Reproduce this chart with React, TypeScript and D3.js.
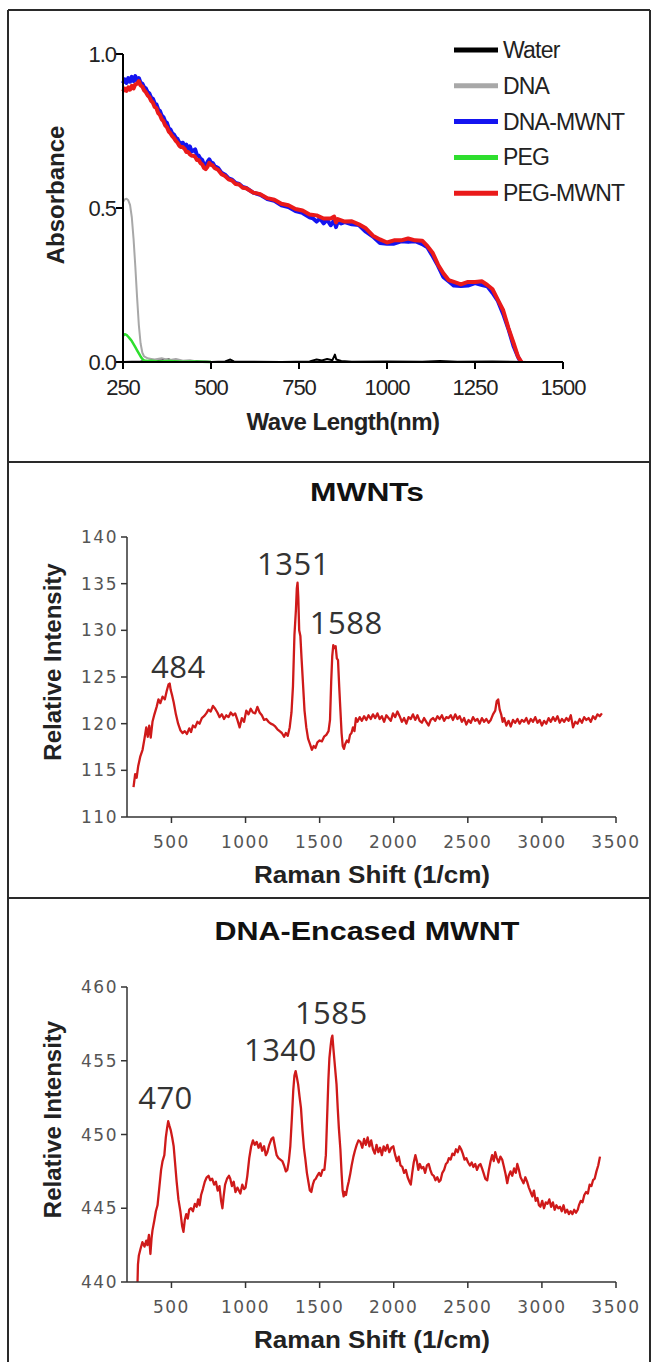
import * as d3 from 'd3';

// ---- UV-Vis absorbance spectra ----
const legendNames = ['Water', 'DNA', 'DNA-MWNT', 'PEG', 'PEG-MWNT'];
const legendColors = ['#000000', '#a8a8a8', '#1414f0', '#2ede2e', '#ea1a1a'];

const waterAbs = [[250,0],[300,.002],[330,.004],[360,.006],[380,.008],[400,.002],[450,.003],[500,0],[540,.002],[555,.008],[565,.002],[600,.001],[700,0],[780,.002],[800,.008],[815,.005],[830,.01],[845,.006],[852,.024],[856,.008],[870,.003],[900,.001],[1000,.002],[1100,.001],[1150,.003],[1200,.001],[1300,.002],[1400,0]];

const dnaAbs = [[250,.52],[255,.528],[260,.53],[265,.525],[270,.51],[275,.47],[280,.4],[285,.31],[290,.21],[295,.12],[300,.06],[305,.03],[310,.018],[320,.012],[330,.01],[340,.008],[360,.012],[380,.006],[400,.01],[420,.004],[440,.006],[460,.002],[480,.003],[500,.001]];

const dnaMwntAbs = [[250,.905],[255,.918],[260,.906],[265,.922],[270,.91],[275,.926],[280,.912],[285,.928],[290,.914],[295,.922],[300,.906],[305,.904],[310,.892],[315,.888],[320,.876],[325,.872],[330,.858],[335,.855],[340,.84],[345,.836],[350,.82],[355,.815],[360,.8],[365,.795],[370,.78],[375,.776],[380,.758],[385,.755],[390,.742],[395,.738],[400,.728],[405,.724],[410,.712],[415,.71],[420,.712],[425,.698],[430,.706],[435,.69],[440,.7],[445,.684],[450,.686],[455,.69],[460,.672],[465,.67],[470,.66],[475,.656],[480,.64],[485,.634],[490,.65],[495,.658],[500,.648],[505,.646],[510,.636],[520,.63],[530,.614],[540,.608],[550,.596],[560,.592],[570,.581],[580,.578],[590,.568],[600,.565],[620,.55],[640,.543],[660,.529],[680,.523],[700,.509],[720,.503],[740,.49],[760,.484],[780,.47],[790,.466],[800,.456],[810,.466],[820,.45],[830,.462],[840,.444],[850,.46],[855,.438],[860,.456],[870,.45],[880,.454],[900,.447],[920,.445],[940,.423],[960,.407],[980,.386],[1000,.384],[1020,.384],[1040,.392],[1060,.39],[1080,.392],[1100,.383],[1115,.372],[1130,.343],[1145,.312],[1160,.276],[1175,.262],[1190,.248],[1210,.247],[1230,.248],[1250,.256],[1270,.25],[1285,.246],[1300,.224],[1315,.198],[1330,.156],[1345,.107],[1360,.05],[1372,.017],[1380,0]];

const pegAbs = [[250,.085],[255,.09],[260,.088],[265,.082],[270,.075],[275,.068],[280,.058],[285,.048],[290,.038],[295,.028],[300,.018],[305,.01],[310,.005],[320,.003],[330,.004],[350,.002],[380,.003],[420,.001],[450,.002],[500,0]];

const pegMwntAbs = [[250,.878],[255,.888],[260,.88],[265,.892],[270,.884],[275,.897],[280,.888],[285,.902],[290,.903],[295,.912],[300,.898],[305,.894],[310,.882],[315,.876],[320,.866],[325,.86],[330,.848],[335,.842],[340,.828],[345,.824],[350,.808],[355,.802],[360,.788],[365,.782],[370,.768],[375,.762],[380,.748],[385,.742],[390,.733],[395,.727],[400,.718],[405,.712],[410,.702],[415,.698],[420,.698],[425,.692],[430,.682],[435,.682],[440,.674],[445,.67],[450,.67],[455,.666],[460,.656],[465,.656],[470,.646],[475,.642],[480,.63],[485,.626],[490,.634],[495,.647],[500,.64],[505,.638],[510,.63],[520,.624],[530,.61],[540,.604],[550,.593],[560,.589],[570,.578],[580,.576],[590,.566],[600,.564],[620,.55],[640,.545],[660,.532],[680,.527],[700,.514],[720,.509],[740,.497],[760,.492],[780,.479],[800,.476],[820,.466],[840,.466],[850,.472],[855,.453],[860,.464],[880,.456],[900,.457],[920,.447],[940,.434],[960,.41],[980,.398],[1000,.388],[1020,.395],[1040,.395],[1060,.401],[1080,.395],[1100,.394],[1115,.376],[1130,.354],[1145,.316],[1160,.288],[1175,.266],[1190,.26],[1210,.252],[1230,.26],[1250,.26],[1270,.262],[1285,.25],[1300,.236],[1315,.202],[1330,.168],[1345,.11],[1360,.06],[1372,.018],[1382,0]];

const absSeries = [waterAbs, dnaAbs, dnaMwntAbs, pegAbs, pegMwntAbs];
const absWidths = [2, 2, 4, 2.5, 4];

const waveTicks = [250, 500, 750, 1000, 1250, 1500];
const absTicks = [0, 0.5, 1.0];

// ---- Raman spectra ----
const ramanTicks = [500, 1000, 1500, 2000, 2500, 3000, 3500];
const mwntTicks = [110, 115, 120, 125, 130, 135, 140];
const dnaTicks = [440, 445, 450, 455, 460];

const mwntRaman = [[244,113.2],[255,114.6],[265,114.2],[275,115.4],[290,116.5],[305,117.2],[318,118.4],[330,119.6],[340,118.6],[350,119.8],[360,118.5],[372,120.2],[385,121],[400,121.8],[412,122.6],[425,122.2],[440,122.9],[455,122.6],[468,123.5],[480,124.2],[488,124.3],[495,123.6],[505,123],[515,122.3],[530,121],[545,120],[560,119.3],[575,119],[590,119.2],[605,118.9],[620,119.5],[632,119.1],[645,119.8],[660,119.6],[675,120.2],[690,120],[705,120.6],[720,120.8],[735,121.1],[750,121.5],[765,121.3],[780,121.9],[795,121.6],[810,121.2],[825,120.7],[840,121],[855,120.5],[870,120.9],[885,120.7],[900,121.2],[915,120.9],[930,121.1],[945,120.4],[960,119.6],[975,120.6],[990,120.2],[1005,121.4],[1020,121],[1035,121.6],[1050,121.2],[1065,121.1],[1080,121.8],[1095,121.2],[1110,120.9],[1125,120.4],[1140,120.5],[1155,120.2],[1170,120],[1185,119.9],[1200,119.7],[1215,119.4],[1230,119.2],[1245,119],[1260,118.6],[1272,119],[1285,118.7],[1298,119.6],[1310,121.2],[1320,124],[1330,129.5],[1340,132.2],[1346,134.5],[1351,135.1],[1356,133.5],[1362,130],[1370,129.4],[1378,127],[1388,124.2],[1398,121.4],[1410,119.6],[1422,118.4],[1435,117.8],[1448,117.2],[1460,117.6],[1472,117.4],[1485,118],[1500,118.2],[1515,118.1],[1530,118.6],[1545,118.8],[1560,119.2],[1570,120.4],[1578,124.5],[1585,127.2],[1592,128.4],[1600,128.1],[1608,128.3],[1616,127],[1624,126.8],[1632,124],[1640,121.5],[1648,119],[1656,117.6],[1664,117.3],[1672,117.8],[1684,118.2],[1695,118],[1705,118.8],[1715,119],[1725,119.6],[1735,119.2],[1745,120.6],[1755,120.2],[1770,120.7],[1785,120.3],[1800,120.8],[1815,120.4],[1830,120.9],[1845,120.5],[1860,121],[1875,120.6],[1890,121.1],[1905,120.5],[1920,120.8],[1935,120.2],[1950,120.9],[1965,120.6],[1980,120.3],[1995,121.1],[2010,120.7],[2025,121.3],[2040,120.8],[2055,120.2],[2070,120.6],[2085,120],[2100,120.7],[2115,120.5],[2130,121],[2145,120.4],[2160,120.9],[2175,120.3],[2190,120.1],[2205,120.6],[2220,120.2],[2235,119.8],[2250,120.4],[2265,120.6],[2280,120.3],[2295,120.8],[2310,120.5],[2325,120.9],[2340,120.3],[2355,120.7],[2370,120.6],[2385,120.9],[2400,120.4],[2415,121],[2430,120.5],[2445,120.8],[2460,120.2],[2475,120.6],[2490,119.9],[2505,120.4],[2520,120.1],[2535,120.7],[2550,120.3],[2565,120.5],[2580,120],[2595,120.6],[2610,120.2],[2625,120.5],[2640,120.1],[2655,120.4],[2670,121],[2685,121.4],[2695,122.4],[2705,122.6],[2715,121.5],[2725,121],[2735,120.2],[2745,120.6],[2760,119.8],[2775,120.3],[2790,119.7],[2805,120.4],[2820,120.1],[2835,120.5],[2850,120],[2865,120.4],[2880,120.2],[2895,120.6],[2910,120],[2925,120.5],[2940,120.2],[2955,120.7],[2970,120.1],[2985,120.4],[3000,119.8],[3015,120.3],[3030,120],[3045,120.6],[3060,120.2],[3075,120.7],[3090,120.3],[3105,120.8],[3120,120.1],[3135,120.5],[3150,120.2],[3165,120.6],[3180,120.3],[3195,120.9],[3210,119.6],[3225,120.2],[3240,120],[3255,120.5],[3270,120.1],[3285,120.7],[3300,120.4],[3315,120.6],[3330,120.2],[3345,120.8],[3360,120.5],[3375,121],[3390,120.8],[3405,121.1]];

const dnaRaman = [[271,440],[274,441.2],[280,441.8],[290,442.2],[304,442.7],[318,442.4],[330,442.8],[338,442.5],[348,443.2],[358,441.9],[366,443],[372,443.5],[385,444.2],[395,444.8],[406,445.2],[418,446.4],[430,447.6],[440,448.2],[452,448.6],[462,449.8],[470,450.4],[478,450.9],[486,450.6],[495,450.3],[505,449.8],[515,449.2],[525,448],[535,446.8],[547,445.6],[560,444.8],[572,443.8],[581,443.4],[590,444.2],[600,444.6],[610,444.3],[620,444.9],[632,445],[645,444.8],[658,445.3],[670,445.1],[680,445.6],[690,445.2],[700,445.9],[712,446.3],[725,446.8],[738,447.1],[750,447.2],[762,446.9],[775,447],[788,446.6],[800,446.8],[812,446.2],[824,446.5],[835,445.5],[844,445],[852,445.8],[862,446.6],[875,447],[888,447.2],[897,447],[908,446.5],[920,446.8],[932,446.1],[945,446.4],[955,446.2],[965,446],[978,446.6],[990,446.3],[1000,446.4],[1012,447.2],[1025,448.4],[1038,449.2],[1050,449.6],[1062,449.3],[1075,449.5],[1088,449.1],[1100,449.4],[1112,448.9],[1125,449.2],[1137,448.6],[1147,448.8],[1160,449.3],[1175,449.7],[1187,449.8],[1198,449.2],[1210,448.6],[1222,448.4],[1235,448.3],[1248,448.2],[1260,447.9],[1272,447.5],[1282,447.6],[1292,448.2],[1302,449.2],[1312,451],[1322,453],[1330,454],[1338,454.3],[1346,453.9],[1355,453.4],[1364,452.6],[1374,451.8],[1384,450.3],[1394,449.1],[1404,448.3],[1414,447.4],[1424,446.8],[1434,446.2],[1444,446.1],[1454,446.6],[1464,446.9],[1474,447],[1484,447.2],[1496,447.4],[1508,447.2],[1520,447.6],[1532,447.6],[1542,448.6],[1550,451],[1559,453.7],[1566,455.2],[1574,456],[1580,456.5],[1586,456.7],[1593,455.8],[1600,455],[1607,454.2],[1614,453.4],[1622,451.8],[1630,450.4],[1640,449],[1648,447.4],[1655,446.2],[1662,445.8],[1670,446.1],[1678,445.9],[1687,446.4],[1696,446.8],[1706,447.3],[1716,447.9],[1728,448.5],[1738,448.9],[1750,449.3],[1762,449.6],[1775,449.5],[1788,449.1],[1800,449.7],[1812,449.3],[1824,449.8],[1836,449.2],[1848,449.6],[1860,449],[1872,448.7],[1884,449.3],[1896,448.8],[1908,449.1],[1920,448.6],[1932,449.2],[1944,448.9],[1957,449.3],[1970,448.8],[1984,449.1],[1997,449.2],[2010,448.6],[2022,448.2],[2034,448.5],[2046,447.9],[2058,447.8],[2070,447.4],[2082,447.6],[2094,447.1],[2106,446.8],[2115,446.6],[2125,447.4],[2135,448.1],[2146,448.6],[2156,448.2],[2166,447.6],[2176,448],[2188,447.7],[2200,447.8],[2212,447.4],[2224,447.9],[2236,448],[2247,447.6],[2258,447.3],[2270,447.2],[2282,446.9],[2294,447.1],[2306,446.8],[2316,446.9],[2328,447.4],[2340,447.6],[2352,448],[2362,448.1],[2372,448.4],[2384,448.3],[2396,448.7],[2408,448.6],[2420,449],[2432,448.8],[2444,449.2],[2455,449],[2466,448.7],[2478,448.3],[2490,448.4],[2502,448.1],[2514,447.9],[2526,448.1],[2538,447.8],[2550,448],[2562,447.6],[2574,447.9],[2585,448],[2596,447.7],[2606,447.4],[2618,447],[2631,446.9],[2642,447.6],[2654,448.2],[2664,448.6],[2675,448.2],[2685,448.8],[2696,448.4],[2708,448.1],[2720,448.5],[2732,448.3],[2744,447.8],[2755,447.3],[2766,446.7],[2776,447.2],[2788,447.5],[2800,447.2],[2812,447.7],[2824,447.4],[2834,448],[2845,447.6],[2856,447.1],[2866,446.9],[2876,446.7],[2888,447.1],[2900,446.8],[2912,446.4],[2924,446.1],[2935,445.8],[2946,446.2],[2958,445.5],[2970,445.7],[2980,445.2],[2990,445.1],[3002,445.5],[3014,445],[3026,445.4],[3038,445.3],[3050,445.6],[3062,445.1],[3074,445.4],[3086,444.9],[3098,445.2],[3110,445],[3122,445.1],[3134,444.8],[3146,445.2],[3158,444.7],[3170,444.9],[3182,444.6],[3194,444.8],[3206,444.6],[3218,444.9],[3230,444.7],[3242,444.9],[3250,445.2],[3262,445.5],[3274,445.4],[3286,445.9],[3298,446.1],[3310,446],[3322,446.6],[3334,446.5],[3345,446.9],[3356,447],[3368,447.5],[3380,447.9],[3392,448.5]];

// peak annotations: label text, anchor position in data units
const mwntPeaks = [{ text: '484', x: 547, y: 124.9 }, { text: '1351', x: 1323, y: 135.9 }, { text: '1588', x: 1680, y: 129.6 }];
const dnaPeaks = [{ text: '470', x: 460, y: 451.7 }, { text: '1340', x: 1235, y: 455.0 }, { text: '1585', x: 1579, y: 457.5 }];

const SANS = '"Liberation Sans", Arial, sans-serif';
const WIDE = '"DejaVu Sans", Verdana, sans-serif';

function AbsorbancePanel() {
  const x = d3.scaleLinear().domain([250, 1500]).range([123, 563]);
  const y = d3.scaleLinear().domain([0, 1]).range([362, 54]);
  const line = d3.line<number[]>().x(d => x(d[0])).y(d => y(d[1]));

  return (
    <g>
      {absSeries.map((s, i) => (
        <path key={i} d={line(s) || ''} fill="none" stroke={legendColors[i]} strokeWidth={absWidths[i]} strokeLinejoin="round" />
      ))}
      {/* axes */}
      <line x1={x(250)} x2={x(1500)} y1={y(0)} y2={y(0)} stroke="#000" strokeWidth={2} />
      <line x1={x(250)} x2={x(250)} y1={y(0)} y2={y(1)} stroke="#000" strokeWidth={2} />
      {waveTicks.map(t => (
        <g key={t}>
          <line x1={x(t)} x2={x(t)} y1={y(0)} y2={y(0) + 7} stroke="#000" strokeWidth={2} />
          <text x={x(t)} y={y(0) + 33} textAnchor="middle" fontSize={22} letterSpacing={-1} fontFamily={SANS} fill="#222">{t}</text>
        </g>
      ))}
      {absTicks.map(t => (
        <g key={t}>
          <line x1={x(250) - 7} x2={x(250)} y1={y(t)} y2={y(t)} stroke="#000" strokeWidth={2} />
          <text x={x(250) - 7} y={y(t) + 8} textAnchor="end" fontSize={22} letterSpacing={-1} fontFamily={SANS} fill="#222">{t.toFixed(1)}</text>
        </g>
      ))}
      <text x={343} y={430} textAnchor="middle" fontSize={24} fontWeight="bold" letterSpacing={-0.5} fontFamily={SANS} fill="#222">Wave Length(nm)</text>
      <text transform={`translate(64,195) rotate(-90)`} textAnchor="middle" fontSize={24} fontWeight="bold" fontFamily={SANS} fill="#222">Absorbance</text>
      {/* legend */}
      {legendNames.map((n, i) => (
        <g key={n} transform={`translate(454,${50 + i * 35.8})`}>
          <line x1={0} x2={44} y1={0} y2={0} stroke={legendColors[i]} strokeWidth={5} />
          <text x={49} y={8} fontSize={23} letterSpacing={-0.8} fontFamily={SANS} fill="#222">{n}</text>
        </g>
      ))}
    </g>
  );
}

function RamanPanel({ title, titleLength, data, yTicks, peaks, top, bottom, titleY }: any) {
  const x = d3.scaleLinear().domain([200, 3500]).range([127, 616]);
  const y = d3.scaleLinear().domain([yTicks[0], yTicks[yTicks.length - 1]]).range([bottom, top]);
  const line = d3.line<number[]>().x(d => x(d[0])).y(d => y(d[1]));
  const y0 = yTicks[0];
  const y1 = yTicks[yTicks.length - 1];

  return (
    <g>
      <text x={367} y={titleY} textAnchor="middle" fontSize={25} fontWeight="bold" fontFamily={SANS} fill="#111"
        textLength={titleLength} lengthAdjust="spacingAndGlyphs">{title}</text>
      <path d={line(data) || ''} fill="none" stroke="#cf1a1a" strokeWidth={2.3} strokeLinejoin="round" />
      <line x1={x(200)} x2={x(3500)} y1={y(y0)} y2={y(y0)} stroke="#333" strokeWidth={1.5} />
      <line x1={x(200)} x2={x(200)} y1={y(y0)} y2={y(y1)} stroke="#333" strokeWidth={1.5} />
      {ramanTicks.map(t => (
        <g key={t}>
          <line x1={x(t)} x2={x(t)} y1={y(y0)} y2={y(y0) + 6} stroke="#333" strokeWidth={1.5} />
          <text x={x(t)} y={y(y0) + 31} textAnchor="middle" fontSize={17} letterSpacing={1.5} fontFamily={WIDE} fill="#555">{t}</text>
        </g>
      ))}
      {yTicks.map((t: number) => (
        <g key={t}>
          <line x1={x(200) - 6} x2={x(200)} y1={y(t)} y2={y(t)} stroke="#333" strokeWidth={1.5} />
          <text x={x(200) - 9} y={y(t) + 6} textAnchor="end" fontSize={17} letterSpacing={1.5} fontFamily={WIDE} fill="#555">{t}</text>
        </g>
      ))}
      <text x={372} y={y(y0) + 66} textAnchor="middle" fontSize={24} fontWeight="bold" fontFamily={SANS} fill="#222"
        textLength={236} lengthAdjust="spacingAndGlyphs">Raman Shift (1/cm)</text>
      <text transform={`translate(61,${(y(y0) + y(y1)) / 2 - 15}) rotate(-90)`} textAnchor="middle" fontSize={24} fontWeight="bold" fontFamily={SANS} fill="#222">Relative Intensity</text>
      {peaks.map((p: any) => (
        <text key={p.text} x={x(p.x)} y={y(p.y)} textAnchor="middle" fontSize={31} letterSpacing={0.5} fontFamily='"Open Sans", sans-serif' fill="#333">{p.text}</text>
      ))}
    </g>
  );
}

export default function App() {
  return (
    <svg width={656} height={1362} style={{ position: 'absolute', left: 0, top: 0, background: '#fff' }}>
      <rect x={0} y={0} width={656} height={1362} fill="#fff" />
      <AbsorbancePanel />
      <RamanPanel title="MWNTs" titleLength={114} data={mwntRaman} yTicks={mwntTicks} peaks={mwntPeaks} top={537} bottom={817} titleY={501} />
      <RamanPanel title="DNA-Encased MWNT" titleLength={305} data={dnaRaman} yTicks={dnaTicks} peaks={dnaPeaks} top={987} bottom={1282} titleY={940} />
      {/* frame */}
      <g stroke="#2a2a2a" strokeWidth={2} fill="none">
        <line x1={8} x2={650} y1={10} y2={10} />
        <line x1={8} x2={8} y1={10} y2={1362} />
        <line x1={650} x2={650} y1={10} y2={1362} />
        <line x1={8} x2={650} y1={462} y2={462} />
        <line x1={8} x2={650} y1={898} y2={898} />
      </g>
    </svg>
  );
}
